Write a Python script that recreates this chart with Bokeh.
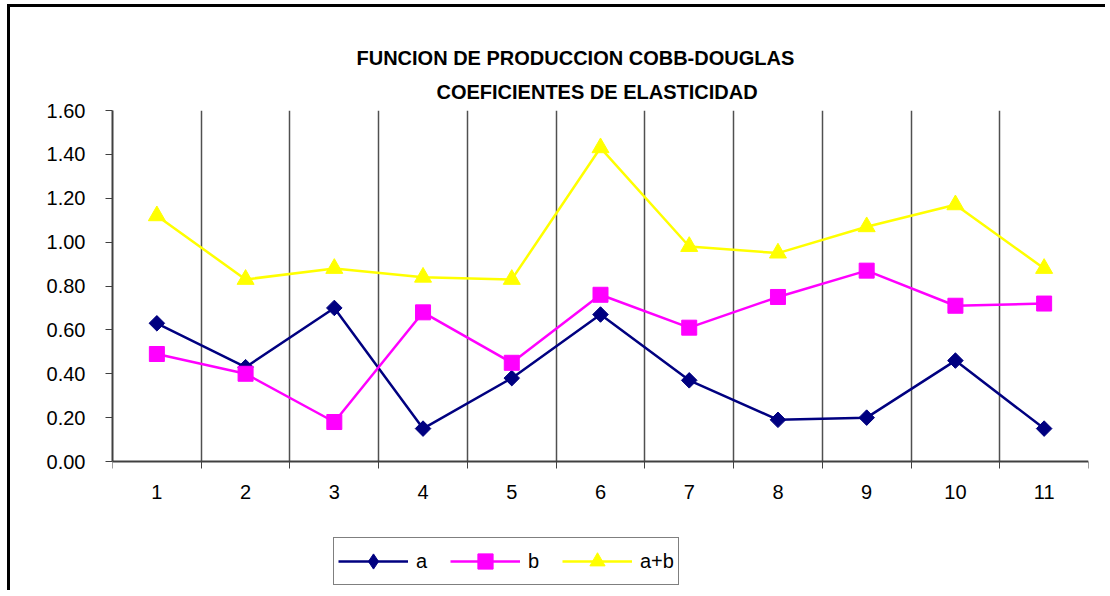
import math
from bokeh.plotting import figure
from bokeh.models import (Range1d, FixedTicker, PrintfTickFormatter, Title,
                          Legend, LegendItem, BoxAnnotation)
from bokeh.embed import file_html
from bokeh.resources import INLINE

# ---- data ----
categories = list(range(1, 12))
tick_labels = [str(c) for c in categories]
a_vals = [0.63, 0.43, 0.70, 0.15, 0.38, 0.67, 0.37, 0.19, 0.20, 0.46, 0.15]
b_vals = [0.49, 0.40, 0.18, 0.68, 0.45, 0.76, 0.61, 0.75, 0.87, 0.71, 0.72]
ab_vals = [1.12, 0.83, 0.88, 0.84, 0.83, 1.43, 0.98, 0.95, 1.07, 1.17, 0.88]
y_ticks = [0.0, 0.2, 0.4, 0.6, 0.8, 1.0, 1.2, 1.4, 1.6]
title_line1 = "FUNCION DE PRODUCCION COBB-DOUGLAS"
title_line2 = "COEFICIENTES DE ELASTICIDAD"

FONT = "Liberation Sans"
Y_MIN, Y_MAX = 0.0, 1.6
Y_VIEW_START = -0.588   # extra room under the axis for the legend

p = figure(width=1098, height=586, output_backend="svg", toolbar_location=None,
           x_range=Range1d(0.5, 11.5), y_range=Range1d(Y_VIEW_START, Y_MAX),
           min_border_left=102, min_border_right=20, min_border_top=103,
           min_border_bottom=3)
p.styles = {"border-left": "3px solid black", "border-top": "3px solid black",
            "margin-left": "7px", "margin-top": "4px"}
p.background_fill_color = "white"
p.border_fill_color = "white"
p.outline_line_color = None

# titles (first added is closest to the plot)
t2 = Title(text=title_line2, align="left", text_font=FONT, text_font_size="20px",
           text_font_style="bold", text_color="black", offset=324, standoff=15)
t1 = Title(text=title_line1, align="left", text_font=FONT, text_font_size="20px",
           text_font_style="bold", text_color="black", offset=244, standoff=6)
p.add_layout(t2, "above")
p.add_layout(t1, "above")

# x axis: labels at centres, tick marks / gridlines at boundaries
xt = FixedTicker(ticks=categories, minor_ticks=[c - 0.5 for c in categories] + [categories[-1] + 0.5])
p.xaxis.ticker = xt
p.xgrid.ticker = xt
p.xaxis.fixed_location = Y_MIN
p.xaxis.major_label_overrides = {c: l for c, l in zip(categories, tick_labels)}
p.xaxis.major_tick_line_color = None
p.xaxis.major_tick_out = 0
p.xaxis.major_tick_in = 0
p.xaxis.minor_tick_out = 7
p.xaxis.minor_tick_in = 0
p.xaxis.minor_tick_line_color = "#404040"
p.xaxis.minor_tick_line_width = 1
p.xaxis.major_label_standoff = 16
p.xgrid.grid_line_color = None
p.xgrid.minor_grid_line_color = "#505050"
p.xgrid.minor_grid_line_width = 1.5

# y axis
p.yaxis.ticker = FixedTicker(ticks=y_ticks)
p.yaxis.bounds = (Y_MIN, Y_MAX)
p.yaxis.formatter = PrintfTickFormatter(format="%.2f")
p.yaxis.major_tick_out = 7
p.yaxis.major_tick_in = 0
p.yaxis.minor_tick_line_color = None
p.yaxis.major_tick_line_color = "#404040"
p.yaxis.major_tick_line_width = 1
p.yaxis.major_label_standoff = 20
p.ygrid.ticker = FixedTicker(ticks=[Y_MAX])
p.ygrid.grid_line_color = "#808080"
p.ygrid.grid_line_width = 2

for ax in (p.xaxis, p.yaxis):
    ax.axis_line_color = "#404040"
    ax.axis_line_width = 2
    ax.major_label_text_font = FONT
    ax.major_label_text_font_size = "20px"
    ax.major_label_text_color = "black"

# blank out the gridlines below the value axis (legend area)
p.add_layout(BoxAnnotation(top=Y_MIN, fill_color="white", fill_alpha=1,
                           line_color=None, level="underlay"))

# series
la = p.line(categories, a_vals, line_color="#000080", line_width=2.5)
# legend swatch for series a (diamond), hidden under the first marker
sa_key = p.scatter(categories[:1], a_vals[:1], marker="diamond", size=14,
                   fill_color="#000080", line_color="#000080")
sa = p.scatter(categories, a_vals, marker="square", angle=math.pi / 4, size=11,
               fill_color="#000080", line_color="#000080")
lb = p.line(categories, b_vals, line_color="#FF00FF", line_width=2.5)
sb = p.scatter(categories, b_vals, marker="square", size=15,
               fill_color="#FF00FF", line_color="#FF00FF")
lc = p.line(categories, ab_vals, line_color="#FFFF00", line_width=2.5)
sc = p.scatter(categories, ab_vals, marker="triangle", size=17,
               fill_color="#FFFF00", line_color="#FFFF00")

legend = Legend(items=[LegendItem(label="a", renderers=[la, sa_key]),
                       LegendItem(label="b", renderers=[lb, sb]),
                       LegendItem(label="a+b", renderers=[lc, sc])],
                orientation="horizontal", location=(221, 5),
                glyph_width=70, glyph_height=38, label_height=38,
                label_standoff=8, spacing=14, padding=4, margin=0,
                label_text_font=FONT, label_text_font_size="20px",
                label_text_color="black",
                border_line_color="black", border_line_width=1,
                background_fill_color="white", background_fill_alpha=1)
p.add_layout(legend, "center")

open("out.html", "w").write(file_html(p, INLINE))
